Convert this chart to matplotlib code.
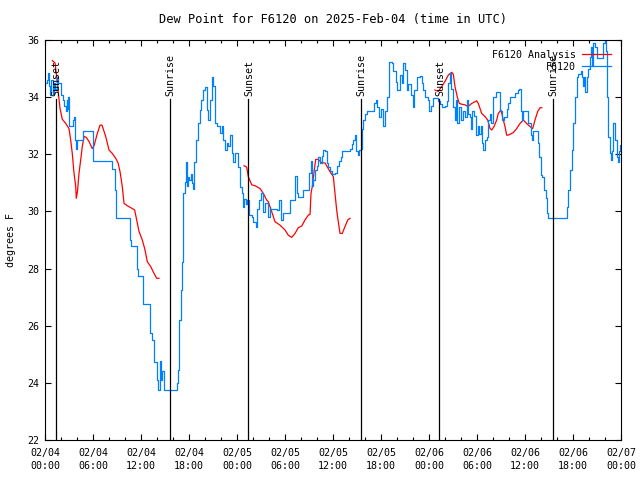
import numpy as np
from matplotlib import pyplot as plt

# hours after 02/04 00:00 UTC
hours_f6120 = [0.06, 0.29, 0.38, 0.5, 0.66, 0.81, 0.94, 1.13, 1.25, 1.46, 1.63, 1.96, 2.19, 2.38,
               2.59, 2.69, 2.79, 2.88, 3.0, 3.25, 3.5, 3.63, 3.81, 3.91, 4.0, 4.66, 4.75, 6.0, 6.06,
               8.21, 8.38, 8.71, 8.91, 10.41, 10.63, 10.69, 11.34, 11.46, 11.66, 12.25, 12.31, 13.0,
               13.13, 13.41, 13.63, 13.91, 14.04, 14.16, 14.34, 14.46, 14.59, 14.88, 16.46, 16.54,
               16.66, 16.79, 16.96, 17.09, 17.21, 17.29, 17.5, 17.63, 17.79, 17.91, 18.04, 18.19,
               18.34, 18.46, 18.63, 18.88, 19.16, 19.38, 19.56, 19.79, 20.0, 20.21, 20.41, 20.63,
               20.84, 21.04, 21.25, 21.5, 21.88, 22.09, 22.29, 22.5, 22.71, 22.91, 23.13, 23.34,
               23.46, 23.75, 23.96, 24.16, 24.38, 24.59, 24.71, 24.88, 25.13, 25.29, 25.5, 25.84,
               26.04, 26.38, 26.54, 26.79, 26.96, 27.29, 27.5, 27.84, 28.13, 28.96, 29.25, 29.5,
               29.79, 30.21, 30.63, 30.91, 31.25, 31.46, 31.66, 32.0, 32.29, 32.88, 33.04, 33.21,
               33.34, 33.54, 33.75, 33.96, 34.16, 34.38, 34.59, 34.79, 35.0, 35.21, 35.41, 35.63,
               35.84, 36.25, 36.46, 36.75, 37.0, 37.16, 37.91, 38.13, 38.34, 38.54, 38.75, 38.84,
               39.09, 39.29, 39.5, 39.59, 39.79, 40.0, 40.21, 41.04, 41.16, 41.38, 41.56, 41.79,
               42.0, 42.29, 42.5, 42.71, 43.04, 43.34, 43.54, 43.88, 44.04, 44.38, 44.59, 44.79,
               45.0, 45.21, 45.41, 45.71, 45.96, 46.16, 46.46, 46.88, 47.09, 47.29, 47.5, 47.91,
               48.04, 48.25, 48.54, 48.96, 49.16, 49.38, 49.59, 50.0, 50.21, 50.41, 50.63, 50.78,
               50.96, 51.25, 51.38, 51.54, 51.79, 51.96, 52.21, 52.5, 52.71, 52.88, 53.13, 53.25,
               53.41, 53.66, 53.84, 54.09, 54.25, 54.5, 54.66, 54.79, 55.0, 55.21, 55.41, 55.63,
               55.75, 56.04, 56.34, 56.79, 56.88, 57.09, 57.41, 57.71, 57.91, 58.13, 58.54, 58.75,
               59.09, 59.25, 59.5, 59.66, 59.79, 60.21, 60.41, 60.75, 60.91, 61.04, 61.46, 61.59,
               61.75, 62.0, 62.16, 62.41, 62.59, 62.71, 62.84, 65.13, 65.21, 65.41, 65.63, 65.84,
               66.04, 66.25, 66.46, 66.66, 66.96, 67.09, 67.21, 67.34, 67.5, 67.71, 67.91, 68.13,
               68.25, 68.38, 68.54, 68.75, 68.96, 69.59, 69.79, 70.0, 70.13, 70.21, 70.29, 70.38,
               70.5, 70.63, 70.71, 70.84, 70.96, 71.04, 71.19, 71.31, 71.46, 71.59, 71.75, 71.88,
               71.96]
dewpt_f6120 = [34.5, 34.6, 34.83, 34.4, 34.07, 34.6, 34.1, 34.5, 34.3, 34.7, 34.5, 34.07, 33.9, 33.7,
               33.5, 33.9, 33.6, 34.0, 33.0, 33.0, 33.2, 33.3, 32.5, 32.2, 32.5, 32.5, 32.8, 32.8, 31.77,
               31.77, 31.5, 30.75, 29.76, 29.76, 29.0, 28.8, 28.8, 28.0, 27.74, 27.74, 26.76, 26.76,
               25.75, 25.5, 24.74, 24.74, 24.1, 23.75, 24.75, 24.1, 24.4, 23.75, 23.75, 24.0,
               24.45, 26.2, 27.25, 28.24, 29.24, 30.63, 31.04, 31.74, 30.9, 31.2, 31.1, 31.3,
               31.0, 30.8, 31.74, 32.5, 33.1, 33.55, 33.9, 34.25, 34.35, 33.55, 33.2, 33.9,
               34.7, 34.4, 33.1, 33.0, 32.73, 33.0, 32.5, 32.15, 32.4, 32.3, 32.67, 32.03,
               31.74, 32.03, 32.03, 31.57, 30.87, 30.63, 30.17, 30.45, 30.25, 30.4, 29.87, 29.8,
               29.64, 29.47, 30.1, 30.4, 30.63, 29.97, 30.28, 29.82, 30.1, 30.05, 30.4, 29.7,
               29.93, 29.93, 30.4, 30.4, 31.24, 30.63, 30.5, 30.5, 30.75, 30.75, 31.33, 31.78,
               30.9, 31.1, 31.45, 31.6, 31.92, 31.7, 31.95, 32.15, 32.1, 31.7, 31.55, 31.4,
               31.3, 31.35, 31.6, 31.75, 31.9, 32.1, 32.1, 32.2, 32.35, 32.5, 32.67, 32.1,
               31.97, 32.15, 32.2, 32.9, 33.2, 33.4, 33.5, 33.5, 33.78, 33.9, 33.65, 33.32,
               33.6, 33.0, 33.5, 34.0, 35.24, 35.2, 34.9, 34.54, 34.25, 34.77, 34.5, 35.18,
               34.95, 34.25, 34.45, 34.07, 33.67, 34.25, 34.72, 34.75, 34.5, 34.25, 34.0, 33.9,
               33.5, 33.7, 33.96, 33.96, 33.85, 33.75, 33.67, 33.7, 33.85, 34.48, 34.83, 34.3,
               33.67, 33.2, 33.9, 33.1, 33.67, 33.2, 33.5, 33.3, 33.9, 33.4, 33.3, 32.87,
               33.5, 33.35, 32.67, 33.0, 32.7, 33.0, 32.38, 32.15, 32.5, 32.6, 33.2, 33.4,
               33.1, 34.0, 34.19, 34.19, 33.5, 33.2, 33.3, 33.6, 33.78, 34.0, 34.0, 34.15,
               34.25, 34.3, 33.5, 33.2, 33.5, 33.5, 33.08, 32.67, 32.5, 32.8, 32.8, 32.38,
               31.92, 31.28, 31.2, 30.75, 30.46, 29.93, 29.76, 29.76, 30.17, 30.75, 31.45, 32.15,
               33.08, 34.0, 34.72, 34.8, 34.9, 34.72, 34.4, 34.7, 34.19, 34.7, 35.0, 35.42,
               35.77, 35.1, 35.88, 35.75, 35.36, 35.36, 35.88, 36.0, 35.6, 35.18, 34.0, 32.62,
               32.62, 32.03, 31.8, 32.1, 32.62, 33.08, 32.9, 32.5, 31.92, 31.74, 32.1, 32.33,
               32.2]

nan = np.nan
hours_analysis = [0.91, 1.25, 1.46, 1.63, 1.88, 2.16, 2.59, 3.0, 3.21, 3.41, 3.63, 3.84, 3.91, 4.06,
                  4.25, 4.46, 4.66, 4.88, 5.13, 5.5, 5.91, 6.13, 6.54, 6.88, 7.13, 7.59, 8.0, 8.41,
                  8.84, 9.13, 9.38, 9.66, 9.88, 10.29, 10.91, 11.21, 11.46, 11.75, 12.16, 12.46,
                  12.79, 13.21, 13.63, 13.96, 14.25, nan,
                  24.88, 25.21, 25.41, 25.84, 26.25, 26.88, 27.29, 27.71, 27.91, 28.34, 28.75,
                  29.38, 30.0, 30.41, 30.84, 31.25, 31.66, 32.09, 32.5, 32.91, 33.13, 33.25, 33.41,
                  33.66, 33.84, 34.16, 34.59, 35.0, 35.63, 36.04, 36.25, 36.46, 36.66, 36.88,
                  37.16, 37.5, 37.84, 38.13, nan,
                  48.75, 49.16, 49.59, 50.0, 50.41, 50.84, 51.04, 51.25, 51.54, 51.79, 52.13, 52.5,
                  52.88, 53.34, 53.96, 54.16, 54.59, 55.0, 55.34, 55.63, 55.84, 56.13, 56.46, 56.66,
                  57.0, 57.29, 57.5, 57.71, 57.91, 58.54, 58.96, 59.38, 59.79, 60.21, 60.63, 60.96,
                  61.25, 61.59, 61.88, 62.09]
dewpt_analysis = [35.28, 35.2, 34.72, 34.25, 33.6, 33.23, 33.08, 32.9, 32.5, 32.03, 31.33, 30.87, 30.46,
                  30.7, 31.33, 31.8, 32.27, 32.62, 32.6, 32.45, 32.2, 32.3, 32.73, 33.02, 33.02, 32.62,
                  32.15, 32.03, 31.86, 31.7, 31.39, 30.87, 30.28, 30.2, 30.1, 30.05, 29.7, 29.3, 29.0,
                  28.7, 28.24, 28.07, 27.83, 27.66, 27.66, nan,
                  31.6, 31.55, 31.22, 30.93, 30.9, 30.8, 30.63, 30.4, 30.34, 29.99, 29.64, 29.52,
                  29.35, 29.17, 29.09, 29.23, 29.43, 29.49, 29.7, 29.87, 29.9, 30.63, 30.87, 31.45,
                  31.82, 31.82, 31.7, 31.7, 31.39, 31.22, 30.63, 30.05, 29.64, 29.23, 29.23, 29.47,
                  29.7, 29.76, nan,
                  34.25, 34.2, 34.37, 34.55, 34.77, 34.87, 34.8, 34.37, 34.0, 33.78, 33.75, 33.73,
                  33.67, 33.78, 33.87, 33.78, 33.43, 33.32, 33.2, 32.9, 32.85, 32.97, 33.2, 33.43,
                  33.55, 33.2, 32.97, 32.67, 32.67, 32.76, 32.9, 33.08, 33.2, 33.08, 32.97, 32.9,
                  33.2, 33.5, 33.63, 33.63]

sun_hours = [1.38, 15.63, 25.4, 39.5, 49.3, 63.5]
sun_names = ['Sunset', 'Sunrise', 'Sunset', 'Sunrise', 'Sunset', 'Sunrise']

tick_hours = list(range(0, 73, 6))
tick_labels = ['02/04\n00:00', '02/04\n06:00', '02/04\n12:00', '02/04\n18:00',
               '02/05\n00:00', '02/05\n06:00', '02/05\n12:00', '02/05\n18:00',
               '02/06\n00:00', '02/06\n06:00', '02/06\n12:00', '02/06\n18:00',
               '02/07\n00:00']

plt.rcParams['font.family'] = 'DejaVu Sans Mono'
plt.rcParams['font.size'] = 7.2

fig = plt.figure(figsize=(6.4, 4.8), dpi=100)
ax = fig.add_axes([45/640, 40/480, 576/640, 400/480])

ax.plot(hours_analysis, dewpt_analysis, color='#ff0000', lw=0.9, label='F6120 Analysis')
ax.plot(hours_f6120, dewpt_f6120, color='#0080ff', lw=0.9, drawstyle='steps-post', label='F6120')

for h, name in zip(sun_hours, sun_names):
    ax.plot([h, h], [22, 33.93], color='black', lw=0.9)
    ax.text(h + 0.1, 34.05, name, rotation=90, ha='center', va='bottom')

ax.set_xlim(0, 72)
ax.set_ylim(22, 36)
ax.set_xticks(tick_hours)
ax.set_xticklabels(tick_labels, linespacing=1.35)
ax.set_xticks(range(0, 73, 2), minor=True)
ax.set_yticks(range(22, 37, 2))
ax.tick_params(direction='in', top=True, right=True, length=4, width=0.8)
ax.tick_params(axis='x', which='major', pad=6)
ax.tick_params(axis='y', which='major', pad=4)
ax.tick_params(which='minor', direction='in', top=True, length=2.5, width=0.8)
for s in ax.spines.values():
    s.set_linewidth(0.8)

ax.set_title('Dew Point for F6120 on 2025-Feb-04 (time in UTC)', pad=12)
ax.set_ylabel('degrees F', labelpad=8)

ax.legend(loc='upper right', frameon=False, markerfirst=False, handlelength=2.9,
          handletextpad=0.6, labelspacing=0.2, borderpad=0.3, borderaxespad=0.7)

fig.savefig('out.png', dpi=100)
